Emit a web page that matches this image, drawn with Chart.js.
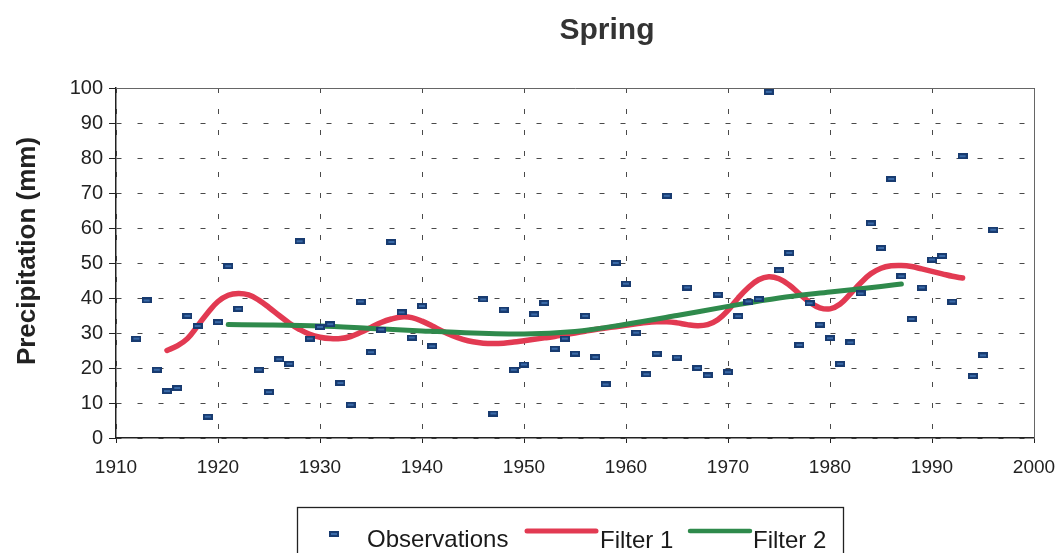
<!DOCTYPE html>
<html>
<head>
<meta charset="utf-8">
<title>Spring</title>
<script src="https://cdn.jsdelivr.net/npm/chart.js@4.4.1/dist/chart.umd.min.js"></script>
<style>
  html, body { margin: 0; padding: 0; background: #ffffff; }
  #wrap { position: relative; width: 1056px; height: 553px; }
</style>
</head>
<body>
<div id="wrap"><canvas id="springChart"></canvas></div>
<script>
// ===== SPRING PRECIPITATION: OBSERVATIONS + TWO SMOOTHING FILTERS =====

const FONT = "'Liberation Sans', Arial, Helvetica, sans-serif";

// Yearly spring precipitation (mm)
const obsYears = [
  1912, 1913, 1914, 1915, 1916, 1917, 1918, 1919, 1920, 1921, 1922,
  1924, 1925, 1926, 1927, 1928, 1929, 1930, 1931, 1932, 1933, 1934, 1935,
  1936, 1937, 1938, 1939, 1940, 1941,
  1946, 1947, 1948, 1949, 1950, 1951, 1952, 1953, 1954, 1955, 1956, 1957,
  1958, 1959, 1960, 1961, 1962, 1963, 1964, 1965, 1966, 1967, 1968, 1969,
  1970, 1971, 1972, 1973, 1974, 1975, 1976, 1977, 1978, 1979, 1980, 1981,
  1982, 1983, 1984, 1985, 1986, 1987, 1988, 1989, 1990, 1991, 1992, 1993,
  1994, 1995, 1996
];
const obsPrecip = [
  28.4, 39.3, 19.5, 13.4, 14.3, 34.9, 32.0, 6.1, 33.1, 49.1, 36.9,
  19.5, 13.1, 22.5, 21.2, 56.2, 28.4, 31.7, 32.5, 15.7, 9.5, 39.0, 24.5,
  31.0, 56.0, 35.9, 28.7, 37.7, 26.2,
  39.6, 7.0, 36.7, 19.5, 21.0, 35.3, 38.6, 25.5, 28.4, 24.1, 34.9, 23.1,
  15.3, 50.0, 44.1, 30.1, 18.2, 24.1, 69.2, 23.0, 43.0, 20.0, 17.9, 41.0,
  18.8, 34.8, 39.0, 39.7, 98.9, 47.9, 52.9, 26.6, 38.5, 32.4, 28.5, 21.2,
  27.3, 41.3, 61.3, 54.3, 74.0, 46.2, 34.0, 43.0, 51.0, 52.0, 39.0, 80.5,
  17.7, 23.6, 59.5
];

// Filter 1 (short window)
const filter1Years = [
  1915, 1916, 1917, 1918, 1919, 1920, 1921, 1922, 1923, 1924, 1925, 1926,
  1927, 1928, 1929, 1930, 1931, 1932, 1933, 1934, 1935, 1936, 1937, 1938,
  1939, 1940, 1941, 1942, 1943, 1944, 1945, 1946, 1947, 1948, 1949, 1950,
  1951, 1952, 1953, 1954, 1955, 1956, 1957, 1958, 1959, 1960, 1961, 1962,
  1963, 1964, 1965, 1966, 1967, 1968, 1969, 1970, 1971, 1972, 1973, 1974,
  1975, 1976, 1977, 1978, 1979, 1980, 1981, 1982, 1983, 1984, 1985, 1986,
  1987, 1988, 1989, 1990, 1991, 1992, 1993
];
const filter1Precip = [
  25.0, 26.3, 28.4, 32.0, 35.8, 39.0, 40.8, 41.3, 40.9, 39.4, 37.3, 35.0,
  32.8, 31.0, 29.6, 28.8, 28.4, 28.4, 29.0, 30.2, 31.6, 33.0, 34.0, 34.6,
  34.4, 33.4, 32.0, 30.5, 29.2, 28.2, 27.5, 27.1, 27.0, 27.1, 27.4, 27.8,
  28.2, 28.6, 29.0, 29.5, 30.0, 30.5, 31.0, 31.4, 31.8, 32.2, 32.6, 33.0,
  33.2, 33.2, 32.9, 32.4, 32.1, 32.4, 33.8, 36.5, 40.0, 43.0, 45.2, 46.1,
  45.5, 43.7, 41.2, 38.8, 37.2, 36.9, 38.3, 41.2, 44.3, 46.9, 48.5, 49.2,
  49.3, 49.0, 48.3, 47.6, 46.9, 46.2, 45.7
];

// Filter 2 (long window)
const filter2Years = [1921, 1925, 1930, 1935, 1940, 1945, 1950, 1955, 1960, 1965, 1970, 1975, 1980, 1985, 1987];
const filter2Precip = [32.4, 32.3, 32.0, 31.3, 30.6, 30.0, 29.7, 30.4, 32.5, 35.0, 37.6, 40.0, 41.7, 43.3, 44.0];

const xTicks = [1910, 1920, 1930, 1940, 1950, 1960, 1970, 1980, 1990, 2000];
const yTicks = [0, 10, 20, 30, 40, 50, 60, 70, 80, 90, 100];

const toPoints = (xs, ys) => xs.map((x, i) => ({ x: x, y: ys[i] }));

// Small flat "dash" marker used for the observations
function makeDashMarker() {
  const c = document.createElement("canvas");
  c.width = 10;
  c.height = 6;
  const g = c.getContext("2d");
  g.fillStyle = "#183b70";
  g.fillRect(0, 0, 10, 6);
  g.fillStyle = "#3a6aa8";
  g.fillRect(2, 2, 6, 2);
  return c;
}
const dashMarker = makeDashMarker();

// Title, rotated axis title, plot frame and boxed legend
const chartText = {
  id: "chartText",
  beforeDatasetsDraw(chart) {
    const { ctx, chartArea: a } = chart;
    ctx.save();
    ctx.strokeStyle = "#666";
    ctx.lineWidth = 1;
    ctx.beginPath();
    ctx.moveTo(a.left, a.top + 0.5);
    ctx.lineTo(a.right + 0.5, a.top + 0.5);
    ctx.lineTo(a.right + 0.5, a.bottom);
    ctx.stroke();
    ctx.restore();
  },
  afterDraw(chart) {
    const ctx = chart.ctx;
    ctx.save();

    ctx.fillStyle = "#333";
    ctx.font = "bold 30px " + FONT;
    ctx.textAlign = "center";
    ctx.textBaseline = "alphabetic";
    ctx.fillText("Spring", 607, 39);

    ctx.save();
    ctx.translate(28, 251);
    ctx.rotate(-Math.PI / 2);
    ctx.font = "bold 26px " + FONT;
    ctx.textBaseline = "middle";
    ctx.fillStyle = "#222";
    ctx.fillText("Precipitation (mm)", 0, 0);
    ctx.restore();

    // legend
    ctx.strokeStyle = "#222";
    ctx.lineWidth = 1.3;
    ctx.strokeRect(297.5, 507.5, 546, 60);

    ctx.drawImage(dashMarker, 329, 531);

    ctx.font = "24px " + FONT;
    ctx.textAlign = "left";
    ctx.textBaseline = "alphabetic";
    ctx.fillStyle = "#1a1a1a";
    ctx.fillText("Observations", 367, 547);
    ctx.fillText("Filter 1", 600, 548);
    ctx.fillText("Filter 2", 753, 548);

    ctx.lineCap = "round";
    ctx.strokeStyle = "#e23a52";
    ctx.lineWidth = 5;
    ctx.beginPath();
    ctx.moveTo(527, 531);
    ctx.lineTo(596, 531);
    ctx.stroke();

    ctx.strokeStyle = "#2f8a4c";
    ctx.lineWidth = 4.5;
    ctx.beginPath();
    ctx.moveTo(690, 531);
    ctx.lineTo(750, 531);
    ctx.stroke();

    ctx.restore();
  }
};

const gridOpts = {
  color: "#4a4a4a",
  lineWidth: 1,
  tickColor: "#222",
  drawTicks: true
};

new Chart(document.getElementById("springChart").getContext("2d"), {
  type: "line",
  data: {
    datasets: [
      {
        label: "Observations",
        data: toPoints(obsYears, obsPrecip),
        showLine: false,
        pointStyle: dashMarker,
        pointRadius: 5,
        order: 0
      },
      {
        label: "Filter 1",
        data: toPoints(filter1Years, filter1Precip),
        borderColor: "#e23a52",
        borderWidth: 5.5,
        borderCapStyle: "round",
        pointRadius: 0,
        tension: 0.4,
        fill: false,
        order: 2
      },
      {
        label: "Filter 2",
        data: toPoints(filter2Years, filter2Precip),
        borderColor: "#2f8a4c",
        borderWidth: 5,
        borderCapStyle: "round",
        pointRadius: 0,
        cubicInterpolationMode: "monotone",
        fill: false,
        order: 1
      }
    ]
  },
  options: {
    responsive: true,
    maintainAspectRatio: false,
    animation: false,
    clip: false,
    layout: { padding: { top: 88, right: 22, bottom: 0, left: 0 } },
    plugins: {
      legend: { display: false },
      title: { display: false },
      tooltip: { enabled: false }
    },
    scales: {
      x: {
        type: "linear",
        min: 1910,
        max: 2000,
        afterBuildTicks: axis => { axis.ticks = xTicks.map(v => ({ value: v })); },
        afterFit: axis => {
          axis.height = 115;
          axis.paddingRight = 0;
        },
        grid: Object.assign({ tickLength: 5 }, gridOpts),
        border: { display: true, color: "#222", width: 1.5, dash: [5, 16] },
        ticks: {
          color: "#222",
          font: { size: 19, family: FONT },
          padding: 13,
          maxRotation: 0,
          autoSkip: false,
          callback: v => String(v)
        }
      },
      y: {
        min: 0,
        max: 100,
        afterBuildTicks: axis => { axis.ticks = yTicks.map(v => ({ value: v })); },
        afterFit: axis => { axis.width = 116; },
        grid: Object.assign({ tickLength: 7 }, gridOpts),
        border: { display: true, color: "#222", width: 1.5, dash: [5, 16] },
        ticks: {
          color: "#222",
          font: { size: 20, family: FONT },
          padding: 6,
          autoSkip: false
        }
      }
    }
  },
  plugins: [chartText]
});
</script>
</body>
</html>
